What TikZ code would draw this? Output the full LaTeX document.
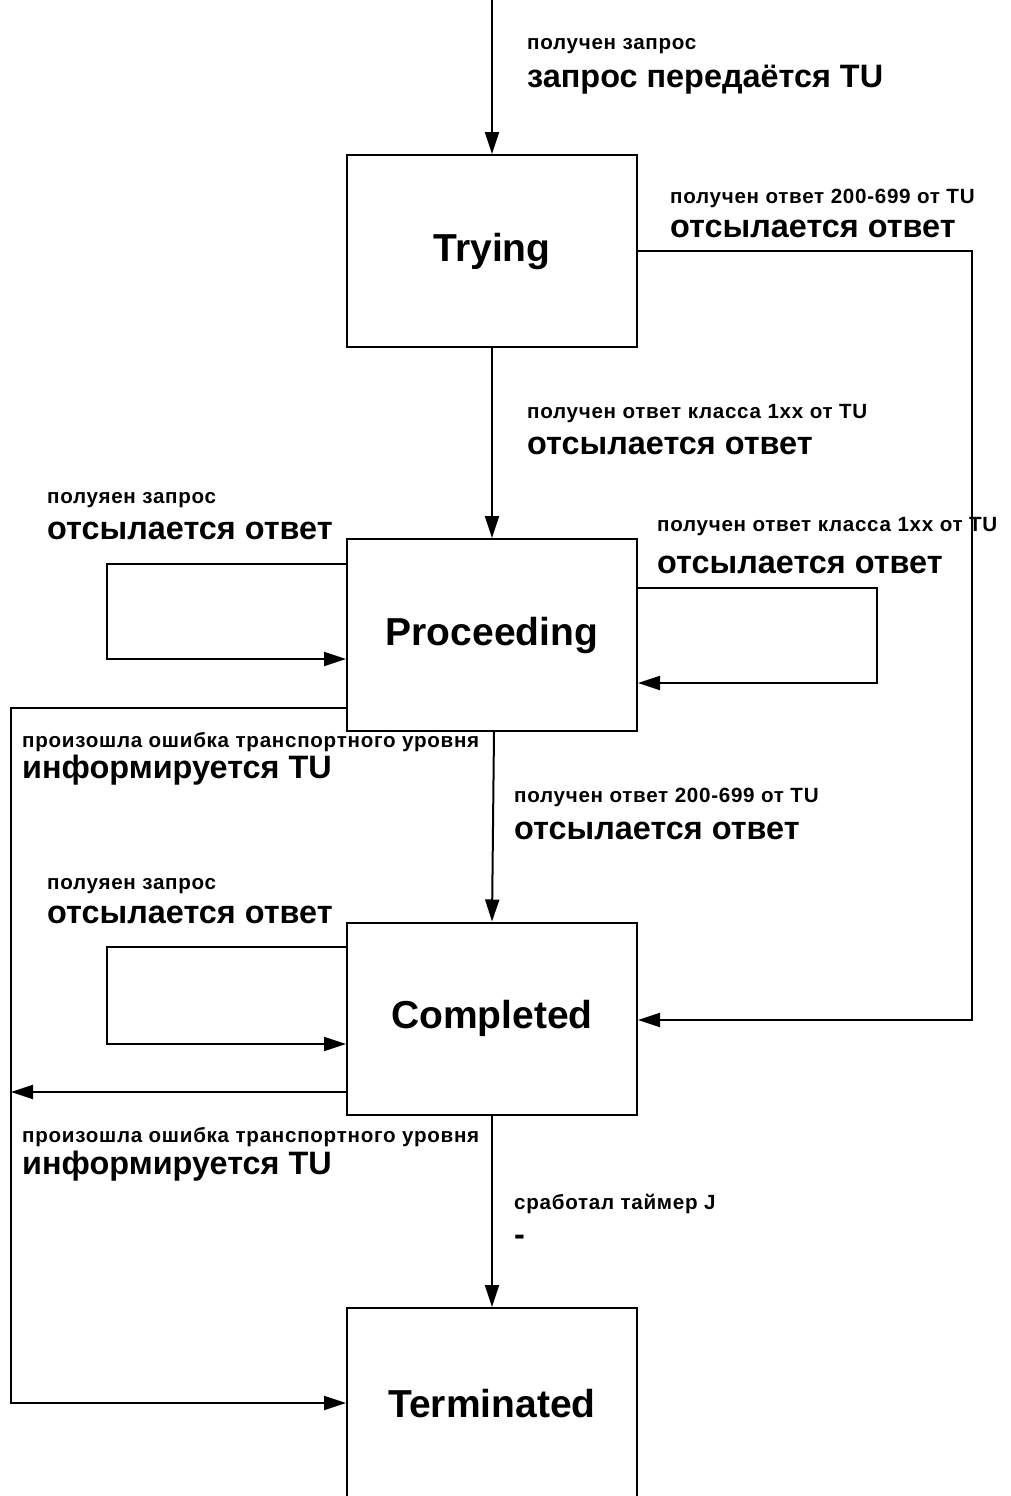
\documentclass[tikz,border=0pt]{standalone}
\usepackage{fontspec}
\setmainfont{Liberation Sans}
\newfontfamily\smallfam[LetterSpace=3.5]{Liberation Sans}
\usetikzlibrary{arrows.meta}
\begin{document}
\begin{tikzpicture}[x=1pt,y=-1pt,
  state/.style={draw,line width=2pt,minimum width=290pt,minimum height=192pt,inner sep=0pt,font=\fontsize{39}{44}\selectfont\bfseries},
  conn/.style={line width=2pt,-{Triangle[length=22pt,width=14pt]}},
  wire/.style={line width=2pt},
  small/.style={anchor=base west,inner sep=0pt,font=\smallfam\fontsize{20.6}{24}\selectfont\bfseries},
  big/.style={anchor=base west,inner sep=0pt,font=\fontsize{32.4}{36}\selectfont\bfseries}]
\useasboundingbox (0,0) rectangle (1010,1496);
\clip (0,0) rectangle (1010,1496);
\fill[white] (0,0) rectangle (1010,1496);

% states
\node[state] (T) at (492,251) {Trying};
\node[state] (P) at (492,635) {Proceeding};
\node[state] (C) at (492,1018.5) {Completed};
\node[state] (X) at (492,1404) {Terminated};

% bend coordinates
\coordinate (in) at (492,-3);
\coordinate (r1) at (972,251);
\coordinate (r2) at (972,1020);
\coordinate (pl1) at (107,564);
\coordinate (pl2) at (107,659);
\coordinate (pr1) at (877,588);
\coordinate (pr2) at (877,683);
\coordinate (e1) at (11,708);
\coordinate (e2) at (11,1403);
\coordinate (cl1) at (107,947);
\coordinate (cl2) at (107,1044);
\coordinate (ce) at (11,1092);

% connectors
\draw[conn] (in) -- (T.north);
\draw[conn] (T.south) -- (P.north);
\draw[conn] ([xshift=2pt]P.south) -- (C.north);
\draw[conn] (C.south) -- (X.north);
\draw[conn] (T.east |- r1) -- (r1) -- (r2) -- (C.east |- r2);
\draw[conn] (P.west |- pl1) -- (pl1) -- (pl2) -- (P.west |- pl2);
\draw[conn] (P.east |- pr1) -- (pr1) -- (pr2) -- (P.east |- pr2);
\draw[conn] (P.west |- e1) -- (e1) -- (e2) -- (X.west |- e2);
\draw[conn] (C.west |- cl1) -- (cl1) -- (cl2) -- (C.west |- cl2);
\draw[conn] (C.west |- ce) -- (ce);

% labels
\node[small] (l1a) at (527,49) {получен запрос};
\node[big]   (l1b) at (527,87) {запрос передаётся TU};
\node[small] (l2a) at (670,203) {получен ответ 200-699 от TU};
\node[big]   (l2b) at (670,237) {отсылается ответ};
\node[small] (l3a) at (527,418) {получен ответ класса 1xx от TU};
\node[big]   (l3b) at (527,454) {отсылается ответ};
\node[small] (l4a) at (47,503) {полуяен запрос};
\node[big]   (l4b) at (47,539) {отсылается ответ};
\node[small] (l5a) at (657,531) {получен ответ класса 1xx от TU};
\node[big]   (l5b) at (657,573) {отсылается ответ};
\node[small] (l6a) at (22,747) {произошла ошибка транспортного уровня};
\node[big]   (l6b) at (22,778) {информируется TU};
\node[small] (l7a) at (514,802) {получен ответ 200-699 от TU};
\node[big]   (l7b) at (514,839) {отсылается ответ};
\node[small] (l8a) at (47,889) {полуяен запрос};
\node[big]   (l8b) at (47,923) {отсылается ответ};
\node[small] (l9a) at (22,1142) {произошла ошибка транспортного уровня};
\node[big]   (l9b) at (22,1174) {информируется TU};
\node[small] (l10a) at (514,1209) {сработал таймер J};
\node[big]   (l10b) at (514,1245) {-};
\end{tikzpicture}
\end{document}
